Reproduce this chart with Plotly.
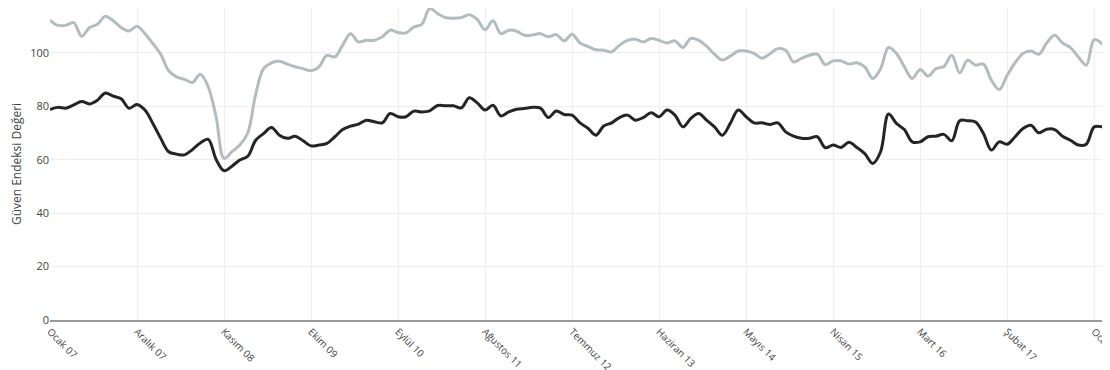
import plotly.graph_objects as go

months_tr = ["Ocak", "Şubat", "Mart", "Nisan", "Mayıs", "Haziran",
             "Temmuz", "Ağustos", "Eylül", "Ekim", "Kasım", "Aralık"]

# Monthly categories Ocak 07 .. Mart 18
categories = [f"{months_tr[m]} {y:02d}" for y in range(7, 19) for m in range(12)][:135]

series_gray = [
    112.2, 110.3, 110.3, 111.3, 106.2, 109.5, 110.7, 113.7, 112.0, 109.5,
    108.2, 110.0, 107.2, 103.5, 99.5, 93.3, 91.0, 90.1, 88.9, 92.0,
    87.3, 76.0, 60.5, 63.0, 65.5, 70.0, 84.5, 94.1, 96.3, 96.9,
    95.8, 94.8, 94.1, 93.3, 94.8, 99.1, 98.5, 102.9, 107.2, 104.1,
    104.7, 104.7, 106.0, 108.5, 107.6, 107.5, 109.7, 110.7, 116.6, 114.7,
    113.2, 113.0, 113.2, 114.3, 112.5, 108.7, 112.0, 107.2, 108.5, 108.1,
    106.6, 106.7, 107.2, 106.0, 106.9, 104.5, 107.0, 103.7, 102.4, 101.2,
    101.0, 100.4, 102.9, 104.7, 105.1, 104.1, 105.4, 104.7, 103.7, 104.5,
    102.0, 105.4, 104.7, 102.5, 99.5, 97.3, 98.8, 100.7, 100.7, 99.8,
    98.0, 99.6, 101.6, 101.0, 96.6, 97.9, 99.1, 99.5, 95.6, 97.0,
    97.0, 95.8, 96.3, 94.8, 90.4, 94.1, 102.0, 99.8, 94.8, 90.4,
    93.8, 91.3, 94.1, 94.9, 99.1, 92.5, 97.3, 95.4, 95.8, 89.8,
    86.3, 91.6, 96.3, 99.8, 100.7, 99.5, 103.7, 106.6, 103.7, 102.0,
    98.5, 95.4, 105.0, 103.5, 100.4,
]

series_dark = [
    78.8, 79.6, 79.3, 80.5, 81.8, 80.9, 82.3, 85.0, 83.8, 82.8,
    79.3, 80.7, 78.6, 73.6, 68.0, 63.0, 62.1, 61.8, 63.8, 66.3,
    67.6, 60.1, 55.9, 57.6, 59.9, 61.3, 67.3, 69.8, 72.1, 69.2,
    68.0, 68.8, 67.1, 65.2, 65.5, 66.1, 68.6, 71.3, 72.6, 73.3,
    74.8, 74.2, 73.8, 77.3, 76.1, 76.1, 78.2, 77.9, 78.3, 80.3,
    80.2, 80.2, 79.4, 83.2, 81.3, 78.6, 80.4, 76.4, 77.9, 78.9,
    79.2, 79.6, 79.3, 75.8, 78.2, 76.9, 76.7, 73.8, 71.8, 69.2,
    72.6, 73.8, 75.8, 76.7, 74.8, 75.8, 77.6, 76.1, 78.6, 76.7,
    72.3, 75.4, 77.3, 74.8, 72.3, 69.2, 73.6, 78.6, 76.1, 73.8,
    73.8, 73.2, 73.8, 70.4, 68.8, 68.0, 68.0, 68.6, 64.5, 65.5,
    64.6, 66.5, 64.6, 62.3, 58.6, 63.0, 77.1, 73.6, 71.3, 66.7,
    66.7, 68.6, 68.8, 69.5, 67.1, 74.6, 74.6, 74.1, 69.8, 63.6,
    66.7, 65.8, 68.6, 71.7, 72.9, 70.1, 71.4, 71.3, 68.8, 67.3,
    65.5, 65.8, 72.3, 72.3, 71.3,
]

tick_labels = categories[::11]

fig = go.Figure()
fig.add_trace(go.Scatter(
    x=categories, y=series_gray, mode="lines",
    line=dict(color="#b3bdc0", width=3, shape="spline"),
    showlegend=False,
))
fig.add_trace(go.Scatter(
    x=categories, y=series_dark, mode="lines",
    line=dict(color="#252525", width=3, shape="spline"),
    showlegend=False,
))

fig.update_layout(
    width=1110, height=370,
    margin=dict(l=42, r=8, t=0, b=58, autoexpand=False),
    paper_bgcolor="white", plot_bgcolor="white",
    font=dict(family="Open Sans", size=11, color="#444444"),
    xaxis=dict(
        type="category",
        range=[0, 134],
        tickmode="array", tickvals=tick_labels, ticktext=tick_labels,
        tickangle=45,
        tickfont=dict(size=10, color="#444444"),
        showgrid=True, gridcolor="#eeeeee",
        showline=True, linecolor="#999999", linewidth=2,
        zeroline=False,
        automargin=False,
    ),
    yaxis=dict(
        range=[0, 116.8],
        tickvals=[0, 20, 40, 60, 80, 100],
        tickfont=dict(size=11, color="#444444"),
        showgrid=True, gridcolor="#eeeeee",
        zeroline=False,
        automargin=False,
        title=dict(text="Güven Endeksi Değeri", font=dict(size=12, color="#444444")),
    ),
)

fig.write_html("out.html")
